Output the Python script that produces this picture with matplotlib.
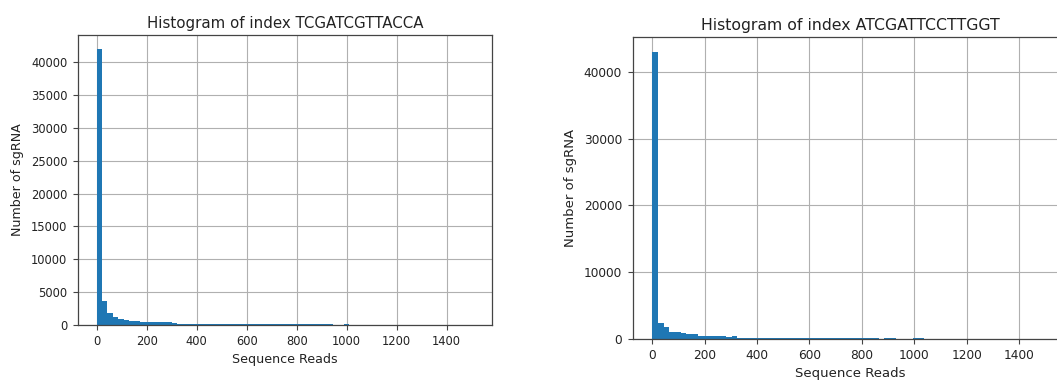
import numpy as np
import matplotlib
matplotlib.use("Agg")
from matplotlib import pyplot as plt

# Binned read counts per sgRNA, 70 equal-width bins from 0 to the max read count
maxReads1 = 1505
counts1 = [42000, 3600, 1800, 1200, 950, 800, 650, 600,
           450, 430, 410, 400, 390, 380, 360,
           200, 190, 185, 180, 175, 170, 170, 165, 165, 160,
           160, 155, 155, 150, 150, 150, 145, 145, 140, 140,
           140, 135, 135, 130, 130, 130, 125, 125, 120,
           0, 0, 150] + [0] * 22 + [5]

maxReads2 = 1512
counts2 = [43000, 2350, 1750, 1100, 1100, 850, 700, 700,
           500, 500, 500, 480, 460, 250, 500,
           200, 200, 195, 195, 190, 190, 185, 185, 180, 180,
           180, 175, 175, 170, 170, 170, 165, 165, 160, 160,
           160, 155, 155, 150, 150,
           0, 200, 200, 0, 0, 0, 200, 200] + [0] * 21 + [5]

titles = ['Histogram of index TCGATCGTTACCA', 'Histogram of index ATCGATTCCTTGGT']
xLabel = 'Sequence Reads'
yLabel = 'Number of sgRNA'

fig = plt.figure(figsize=(10.57, 3.81), dpi=100)
ax1 = fig.add_axes([0.0737, 0.147, 0.3916, 0.761])
ax2 = fig.add_axes([0.5984, 0.1102, 0.4121, 0.7919])


def drawHist(ax, counts, maxReads, title, fs, titleFs, labelFs):
    edges = np.linspace(0, maxReads, len(counts) + 1)
    ax.hist(edges[:-1], bins=edges, weights=counts, color='#1f77b4')
    ax.grid(True, color='#b0b0b0', linewidth=0.8)
    ax.set_axisbelow(True)
    ax.set_title(title, fontsize=titleFs, pad=5, color='#222222')
    ax.set_xlabel(xLabel, fontsize=labelFs, labelpad=3, color='#222222')
    ax.set_ylabel(yLabel, fontsize=labelFs, labelpad=5, color='#222222')
    ax.tick_params(labelsize=fs, length=3.5, width=0.8, pad=4,
                   labelcolor='#222222', color='#444444')
    for s in ax.spines.values():
        s.set_color('#444444')
        s.set_linewidth(0.9)


drawHist(ax1, counts1, maxReads1, titles[0], 8.3, 10.8, 9.1)
ax1.set_xticks(range(0, 1401, 200))
ax1.set_yticks(range(0, 40001, 5000))

drawHist(ax2, counts2, maxReads2, titles[1], 8.7, 11.3, 9.5)
ax2.set_xticks(range(0, 1401, 200))
ax2.set_yticks(range(0, 40001, 10000))
# right edge of this panel runs off the figure
ax2.spines['right'].set_visible(False)

fig.savefig('out.png', dpi=100)
